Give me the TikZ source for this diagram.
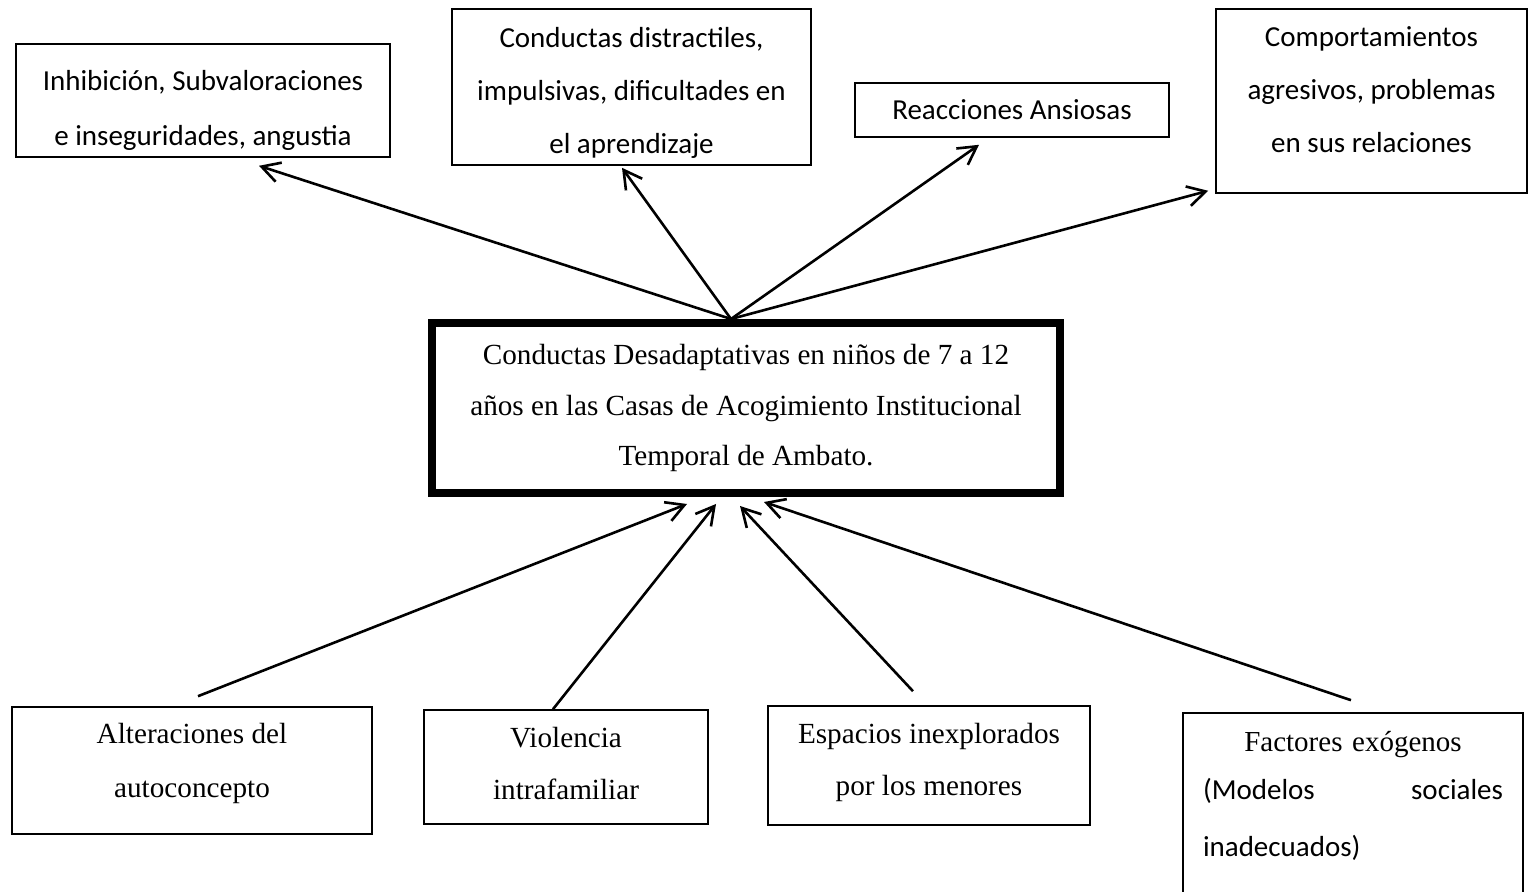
\documentclass[tikz,border=0pt]{standalone}
\usepackage{fontspec}
\setmainfont{Liberation Serif}
\newfontfamily\calibri{Carlito}
\usetikzlibrary{arrows.meta, calc}

\begin{document}
\begin{tikzpicture}[x=0.5pt, y=-0.5pt,
  box/.style={draw, line width=0.8pt, inner sep=0pt},
  core/.style={draw, line width=4pt, inner sep=0pt},
  cal/.style={align=center, font=\calibri\fontsize{14.5}{#1}\selectfont}, cal/.default=27,
  tms/.style={align=center, font=\fontsize{14.6}{#1}\selectfont}, tms/.default=26,
  arr/.style={-{Straight Barb[length=9pt,width=10pt]}, line width=1.3pt}]
  \useasboundingbox (0,0) rectangle (1528,892);
  \clip (0,0) rectangle (1528,892);

  % effects (top row)
  \node[box, minimum width=187pt, minimum height=56.5pt] (inhib) at (203,100.5) {};
  \node[cal=27.5] (inhibtxt) at (203,110.5) {Inhibición, Subvaloraciones\\e inseguridades, angustia};
  \node[box, minimum width=179.5pt, minimum height=78pt] (distr) at (631.5,87) {};
  \node[cal=26.5] (distrtxt) at (631.5,93) {Conductas distractiles,\\impulsivas, dificultades en\\el aprendizaje};
  \node[box, minimum width=157pt, minimum height=27pt] (ansio) at (1012,110) {};
  \node[cal] (ansiotxt) at (1012,110) {Reacciones Ansiosas};
  \node[box, minimum width=155.5pt, minimum height=92pt] (agres) at (1371.5,101) {};
  \node[cal=26.5] (agrestxt) at (1371.5,89.5) {Comportamientos\\agresivos, problemas\\en sus relaciones};

  % problem
  \node[core, minimum width=314pt, minimum height=85pt] (core) at (746,408) {};
  \node[tms=25.25] (coretxt) at (746,408) {Conductas Desadaptativas en niños de 7 a 12\\años en las Casas de Acogimiento Institucional\\Temporal de Ambato.};

  % causes (bottom row)
  \node[box, minimum width=180pt, minimum height=63.5pt] (autoc) at (192,770.5) {};
  \node[tms=27] (autoctxt) at (192,763) {Alteraciones del\\autoconcepto};
  \node[box, minimum width=142pt, minimum height=57pt] (viol) at (566,767) {};
  \node[tms] (violtxt) at (566,764) {Violencia\\intrafamiliar};
  \node[box, minimum width=161pt, minimum height=59.5pt] (espac) at (929,765.5) {};
  \node[tms] (espactxt) at (929,762) {Espacios inexplorados\\por los menores};
  \node[box, minimum width=170pt, minimum height=143.5pt] (exog) at (1353,856.5) {};
  \node[text width=150pt, align=left, font=\calibri\fontsize{14.5}{24}\selectfont] (exogtxt) at (1353,796)
    {{\rmfamily\hfill Factores exógenos\hfill\mbox{}}\\(Modelos\hfill sociales\\[4.5pt]inadecuados)};

  % arrows
  \draw[arr] ($(core.north)+(-15,0)$) -- ($(inhib.south)+(56,8)$);
  \draw[arr] ($(core.north)+(-15,0)$) -- ($(distr.south)+(-9.5,2)$);
  \draw[arr] ($(core.north)+(-15,0)$) -- ($(ansio.south)+(-33,7)$);
  \draw[arr] ($(core.north)+(-15,0)$) -- ($(agres.south west)+(-7,-3)$);
  \draw[arr] ($(autoc.north)+(6,-10)$) -- ($(core.south)+(-59,7)$);
  \draw[arr] ($(viol.north)+(-13,0)$) -- ($(core.south)+(-30,7)$);
  \draw[arr] ($(espac.north)+(-16,-14)$) -- ($(core.south)+(-6,9)$);
  \draw[arr] ($(exog.north)+(-2,-12)$) -- ($(core.south)+(18,5)$);
\end{tikzpicture}
\end{document}
